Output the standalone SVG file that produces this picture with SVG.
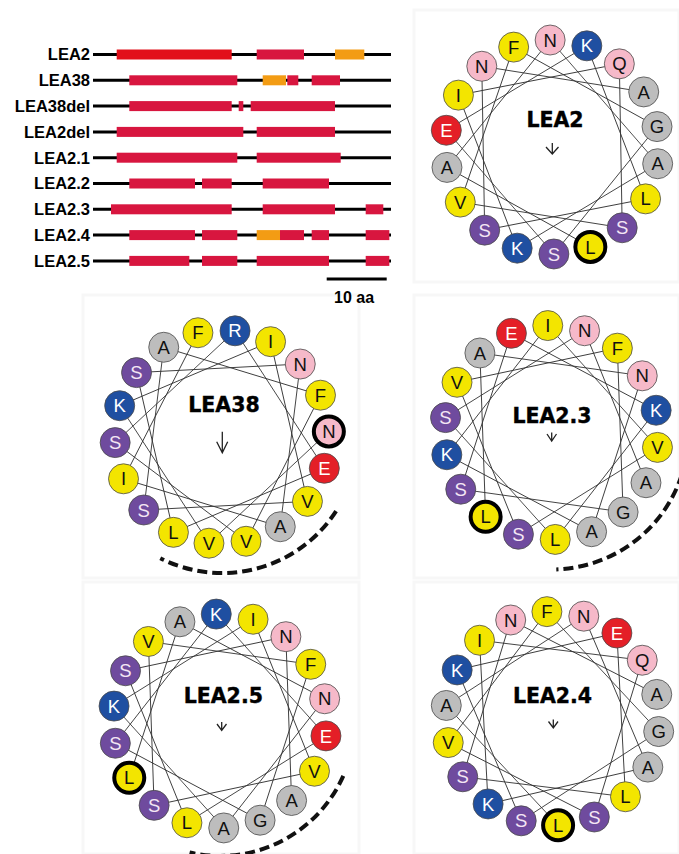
<svg xmlns="http://www.w3.org/2000/svg" xmlns:xlink="http://www.w3.org/1999/xlink" width="679" height="854" viewBox="0 0 679 854">
<style>
.lab{font-family:"Liberation Sans",Arial,sans-serif;font-weight:bold;font-size:16.5px;text-anchor:end;fill:#000}
.sc{font-family:"Liberation Sans",Arial,sans-serif;font-weight:bold;font-size:16px;fill:#000}
.ttl{font-family:"DejaVu Sans",sans-serif;font-weight:bold;font-size:20.5px;text-anchor:middle;fill:#000;stroke:#000;stroke-width:0.4}
.bb{stroke:#000;stroke-width:3}
.rd{fill:#e2101a}.cr{fill:#d8163f}.or{fill:#f39c14}
.panel{fill:#fff;stroke:#f7f7f7;stroke-width:3}
.ch{stroke:#333;stroke-width:0.85}
.aa circle{stroke:#4a4a4a;stroke-width:0.8}
.aa text{font-family:"Liberation Sans",Arial,sans-serif;font-size:18.5px;text-anchor:middle;fill:#111}
.Y circle{fill:#f3e500}.P circle{fill:#f6b9c9}.G circle{fill:#bdbdbd}
.B circle{fill:#1f4fa1}.B text{fill:#fff}
.R circle{fill:#e41f27}.R text{fill:#fff}
.V circle{fill:#6f4b9e}.V text{fill:#f4e6f4}
.aa.bold circle{stroke:#000;stroke-width:4}
.arw{fill:none;stroke:#222;stroke-width:1.3}
.arc{fill:none;stroke:#111;stroke-width:4;stroke-dasharray:10 5}
</style>
<defs>
<line id="chd" class="ch" x1="0" y1="-107" x2="105.37" y2="18.58"/>
</defs>
<rect width="679" height="854" fill="#fff"/>
<g id="panels">
<rect class="panel" x="414" y="10" width="265" height="272"/>
<rect class="panel" x="83" y="295" width="276" height="283"/>
<rect class="panel" x="414" y="295" width="265" height="283"/>
<rect class="panel" x="83" y="582" width="276" height="272"/>
<rect class="panel" x="414" y="582" width="265" height="272"/>
</g>
<!-- Domain bar chart -->
<g id="domains">
<g id="row-LEA2"><text class="lab" x="90" y="60.4">LEA2</text><line class="bb" x1="93" y1="54.5" x2="391" y2="54.5"/>
<rect class="rd" x="116.7" y="49.5" width="115" height="10"/><rect class="cr" x="256.7" y="49.5" width="47.3" height="10"/><rect class="or" x="335" y="49.5" width="29.3" height="10"/></g>
<g id="row-LEA38"><text class="lab" x="90" y="86.2">LEA38</text><line class="bb" x1="93" y1="80.3" x2="391" y2="80.3"/>
<rect class="cr" x="129.3" y="75.3" width="108" height="10"/><rect class="or" x="262.7" y="75.3" width="23.3" height="10"/><rect class="cr" x="287.3" y="75.3" width="11" height="10"/><rect class="cr" x="311.7" y="75.3" width="28.3" height="10"/></g>
<g id="row-LEA38del"><text class="lab" x="90" y="112">LEA38del</text><line class="bb" x1="93" y1="106.1" x2="391" y2="106.1"/>
<rect class="cr" x="129.3" y="101.1" width="102.4" height="10"/><rect class="cr" x="238.7" y="101.1" width="4.6" height="10"/><rect class="cr" x="250.7" y="101.1" width="84.3" height="10"/></g>
<g id="row-LEA2del"><text class="lab" x="90" y="137.8">LEA2del</text><line class="bb" x1="93" y1="131.9" x2="391" y2="131.9"/>
<rect class="cr" x="116.7" y="126.9" width="126.6" height="10"/><rect class="cr" x="256.7" y="126.9" width="78.3" height="10"/></g>
<g id="row-LEA2.1"><text class="lab" x="90" y="163.6">LEA2.1</text><line class="bb" x1="93" y1="157.7" x2="391" y2="157.7"/>
<rect class="cr" x="116.7" y="152.7" width="120.6" height="10"/><rect class="cr" x="256.7" y="152.7" width="84" height="10"/></g>
<g id="row-LEA2.2"><text class="lab" x="90" y="189.4">LEA2.2</text><line class="bb" x1="93" y1="183.5" x2="391" y2="183.5"/>
<rect class="cr" x="129.3" y="178.5" width="65.7" height="10"/><rect class="cr" x="202" y="178.5" width="29.7" height="10"/><rect class="cr" x="262.7" y="178.5" width="66.3" height="10"/></g>
<g id="row-LEA2.3"><text class="lab" x="90" y="215.2">LEA2.3</text><line class="bb" x1="93" y1="209.3" x2="391" y2="209.3"/>
<rect class="cr" x="111" y="204.3" width="120.7" height="10"/><rect class="cr" x="262.7" y="204.3" width="72.3" height="10"/><rect class="cr" x="365.7" y="204.3" width="17.6" height="10"/></g>
<g id="row-LEA2.4"><text class="lab" x="90" y="241">LEA2.4</text><line class="bb" x1="93" y1="235.1" x2="391" y2="235.1"/>
<rect class="cr" x="129.3" y="230.1" width="65.7" height="10"/><rect class="cr" x="202" y="230.1" width="35.3" height="10"/><rect class="or" x="256.7" y="230.1" width="23.3" height="10"/><rect class="cr" x="280" y="230.1" width="24" height="10"/><rect class="cr" x="311.7" y="230.1" width="17.3" height="10"/><rect class="cr" x="365.7" y="230.1" width="23.6" height="10"/></g>
<g id="row-LEA2.5"><text class="lab" x="90" y="266.8">LEA2.5</text><line class="bb" x1="93" y1="260.9" x2="391" y2="260.9"/>
<rect class="cr" x="129.3" y="255.9" width="60" height="10"/><rect class="cr" x="202" y="255.9" width="35.3" height="10"/><rect class="cr" x="256.7" y="255.9" width="72.3" height="10"/><rect class="cr" x="365.7" y="255.9" width="23.6" height="10"/></g>
<g id="scalebar"><line class="bb" x1="326.7" y1="279" x2="386.7" y2="279"/><text class="sc" x="334" y="302.5">10 aa</text></g>
</g>

<!-- Wheel LEA2 -->
<g id="wheel-LEA2" transform="translate(552,147)">
<g id="connectors-LEA2" transform="rotate(-1)">
<use href="#chd" transform="rotate(0)"/><use href="#chd" transform="rotate(20)"/><use href="#chd" transform="rotate(40)"/><use href="#chd" transform="rotate(80)"/><use href="#chd" transform="rotate(100)"/><use href="#chd" transform="rotate(120)"/><use href="#chd" transform="rotate(140)"/><use href="#chd" transform="rotate(160)"/><use href="#chd" transform="rotate(180)"/><use href="#chd" transform="rotate(200)"/><use href="#chd" transform="rotate(220)"/><use href="#chd" transform="rotate(240)"/><use href="#chd" transform="rotate(260)"/><use href="#chd" transform="rotate(280)"/><use href="#chd" transform="rotate(300)"/><use href="#chd" transform="rotate(320)"/><use href="#chd" transform="rotate(340)"/>
</g>
<g id="lea2-p0" class="aa P" transform="rotate(-1) translate(0,-107) rotate(1)"><circle r="15"/><text y="6.6">N</text></g>
<g id="lea2-p1" class="aa B" transform="rotate(19) translate(0,-107) rotate(-19)"><circle r="15"/><text y="6.6">K</text></g>
<g id="lea2-p2" class="aa P" transform="rotate(39) translate(0,-107) rotate(-39)"><circle r="15"/><text y="6.6">Q</text></g>
<g id="lea2-p3" class="aa G" transform="rotate(59) translate(0,-107) rotate(-59)"><circle r="15"/><text y="6.6">A</text></g>
<g id="lea2-p4" class="aa G" transform="rotate(79) translate(0,-107) rotate(-79)"><circle r="15"/><text y="6.6">G</text></g>
<g id="lea2-p5" class="aa G" transform="rotate(99) translate(0,-107) rotate(-99)"><circle r="15"/><text y="6.6">A</text></g>
<g id="lea2-p6" class="aa Y" transform="rotate(119) translate(0,-107) rotate(-119)"><circle r="15"/><text y="6.6">L</text></g>
<g id="lea2-p7" class="aa V" transform="rotate(139) translate(0,-107) rotate(-139)"><circle r="15"/><text y="6.6">S</text></g>
<g id="lea2-p8" class="aa Y bold" transform="rotate(159) translate(0,-107) rotate(-159)"><circle r="15"/><text y="6.6">L</text></g>
<g id="lea2-p9" class="aa V" transform="rotate(179) translate(0,-107) rotate(-179)"><circle r="15"/><text y="6.6">S</text></g>
<g id="lea2-p10" class="aa B" transform="rotate(199) translate(0,-107) rotate(-199)"><circle r="15"/><text y="6.6">K</text></g>
<g id="lea2-p11" class="aa V" transform="rotate(219) translate(0,-107) rotate(-219)"><circle r="15"/><text y="6.6">S</text></g>
<g id="lea2-p12" class="aa Y" transform="rotate(239) translate(0,-107) rotate(-239)"><circle r="15"/><text y="6.6">V</text></g>
<g id="lea2-p13" class="aa G" transform="rotate(259) translate(0,-107) rotate(-259)"><circle r="15"/><text y="6.6">A</text></g>
<g id="lea2-p14" class="aa R" transform="rotate(279) translate(0,-107) rotate(-279)"><circle r="15"/><text y="6.6">E</text></g>
<g id="lea2-p15" class="aa Y" transform="rotate(299) translate(0,-107) rotate(-299)"><circle r="15"/><text y="6.6">I</text></g>
<g id="lea2-p16" class="aa P" transform="rotate(319) translate(0,-107) rotate(-319)"><circle r="15"/><text y="6.6">N</text></g>
<g id="lea2-p17" class="aa Y" transform="rotate(339) translate(0,-107) rotate(-339)"><circle r="15"/><text y="6.6">F</text></g>
<text class="ttl" x="3" y="-20.3">LEA2</text>
<path class="arw" d="M0.3,-4 V7 M-6,0 L0.3,7 L6.5,0"/>
</g>

<!-- Wheel LEA38 -->
<g id="wheel-LEA38" transform="translate(222,437)">
<g id="connectors-LEA38" transform="rotate(7)">
<use href="#chd" transform="rotate(0)"/><use href="#chd" transform="rotate(20)"/><use href="#chd" transform="rotate(40)"/><use href="#chd" transform="rotate(60)"/><use href="#chd" transform="rotate(80)"/><use href="#chd" transform="rotate(100)"/><use href="#chd" transform="rotate(120)"/><use href="#chd" transform="rotate(140)"/><use href="#chd" transform="rotate(160)"/><use href="#chd" transform="rotate(180)"/><use href="#chd" transform="rotate(200)"/><use href="#chd" transform="rotate(220)"/><use href="#chd" transform="rotate(240)"/><use href="#chd" transform="rotate(260)"/><use href="#chd" transform="rotate(280)"/><use href="#chd" transform="rotate(300)"/><use href="#chd" transform="rotate(320)"/>
</g>
<g id="lea38-p0" class="aa B" transform="rotate(7) translate(0,-107) rotate(-7)"><circle r="15"/><text y="6.6">R</text></g>
<g id="lea38-p1" class="aa Y" transform="rotate(27) translate(0,-107) rotate(-27)"><circle r="15"/><text y="6.6">I</text></g>
<g id="lea38-p2" class="aa P" transform="rotate(47) translate(0,-107) rotate(-47)"><circle r="15"/><text y="6.6">N</text></g>
<g id="lea38-p3" class="aa Y" transform="rotate(67) translate(0,-107) rotate(-67)"><circle r="15"/><text y="6.6">F</text></g>
<g id="lea38-p4" class="aa P bold" transform="rotate(87) translate(0,-107) rotate(-87)"><circle r="15"/><text y="6.6">N</text></g>
<g id="lea38-p5" class="aa R" transform="rotate(107) translate(0,-107) rotate(-107)"><circle r="15"/><text y="6.6">E</text></g>
<g id="lea38-p6" class="aa Y" transform="rotate(127) translate(0,-107) rotate(-127)"><circle r="15"/><text y="6.6">V</text></g>
<g id="lea38-p7" class="aa G" transform="rotate(147) translate(0,-107) rotate(-147)"><circle r="15"/><text y="6.6">A</text></g>
<g id="lea38-p8" class="aa Y" transform="rotate(167) translate(0,-107) rotate(-167)"><circle r="15"/><text y="6.6">V</text></g>
<g id="lea38-p9" class="aa Y" transform="rotate(187) translate(0,-107) rotate(-187)"><circle r="15"/><text y="6.6">V</text></g>
<g id="lea38-p10" class="aa Y" transform="rotate(207) translate(0,-107) rotate(-207)"><circle r="15"/><text y="6.6">L</text></g>
<g id="lea38-p11" class="aa V" transform="rotate(227) translate(0,-107) rotate(-227)"><circle r="15"/><text y="6.6">S</text></g>
<g id="lea38-p12" class="aa Y" transform="rotate(247) translate(0,-107) rotate(-247)"><circle r="15"/><text y="6.6">I</text></g>
<g id="lea38-p13" class="aa V" transform="rotate(267) translate(0,-107) rotate(-267)"><circle r="15"/><text y="6.6">S</text></g>
<g id="lea38-p14" class="aa B" transform="rotate(287) translate(0,-107) rotate(-287)"><circle r="15"/><text y="6.6">K</text></g>
<g id="lea38-p15" class="aa V" transform="rotate(307) translate(0,-107) rotate(-307)"><circle r="15"/><text y="6.6">S</text></g>
<g id="lea38-p16" class="aa G" transform="rotate(327) translate(0,-107) rotate(-327)"><circle r="15"/><text y="6.6">A</text></g>
<g id="lea38-p17" class="aa Y" transform="rotate(347) translate(0,-107) rotate(-347)"><circle r="15"/><text y="6.6">F</text></g>
<text class="ttl" x="2" y="-25.3">LEA38</text>
<path class="arw" d="M0.3,-5.3 V15.7 M-5.3,4.7 L0.3,15.7 L5.7,4.7"/>
</g>
<path id="arc-LEA38" class="arc" d="M336.1,511.1 A136,136 0 0 1 160.3,558.2"/>

<!-- Wheel LEA2.3 -->
<g id="wheel-LEA2.3" transform="translate(551.5,432.5)">
<g id="connectors-LEA2.3" transform="rotate(-2)">
<use href="#chd" transform="rotate(0)"/><use href="#chd" transform="rotate(20)"/><use href="#chd" transform="rotate(40)"/><use href="#chd" transform="rotate(60)"/><use href="#chd" transform="rotate(80)"/><use href="#chd" transform="rotate(100)"/><use href="#chd" transform="rotate(140)"/><use href="#chd" transform="rotate(160)"/><use href="#chd" transform="rotate(180)"/><use href="#chd" transform="rotate(200)"/><use href="#chd" transform="rotate(220)"/><use href="#chd" transform="rotate(240)"/><use href="#chd" transform="rotate(260)"/><use href="#chd" transform="rotate(280)"/><use href="#chd" transform="rotate(300)"/><use href="#chd" transform="rotate(320)"/><use href="#chd" transform="rotate(340)"/>
</g>
<g id="lea23-p0" class="aa Y" transform="rotate(-2) translate(0,-107) rotate(2)"><circle r="15"/><text y="6.6">I</text></g>
<g id="lea23-p1" class="aa P" transform="rotate(18) translate(0,-107) rotate(-18)"><circle r="15"/><text y="6.6">N</text></g>
<g id="lea23-p2" class="aa Y" transform="rotate(38) translate(0,-107) rotate(-38)"><circle r="15"/><text y="6.6">F</text></g>
<g id="lea23-p3" class="aa P" transform="rotate(58) translate(0,-107) rotate(-58)"><circle r="15"/><text y="6.6">N</text></g>
<g id="lea23-p4" class="aa B" transform="rotate(78) translate(0,-107) rotate(-78)"><circle r="15"/><text y="6.6">K</text></g>
<g id="lea23-p5" class="aa Y" transform="rotate(98) translate(0,-107) rotate(-98)"><circle r="15"/><text y="6.6">V</text></g>
<g id="lea23-p6" class="aa G" transform="rotate(118) translate(0,-107) rotate(-118)"><circle r="15"/><text y="6.6">A</text></g>
<g id="lea23-p7" class="aa G" transform="rotate(138) translate(0,-107) rotate(-138)"><circle r="15"/><text y="6.6">G</text></g>
<g id="lea23-p8" class="aa G" transform="rotate(158) translate(0,-107) rotate(-158)"><circle r="15"/><text y="6.6">A</text></g>
<g id="lea23-p9" class="aa Y" transform="rotate(178) translate(0,-107) rotate(-178)"><circle r="15"/><text y="6.6">L</text></g>
<g id="lea23-p10" class="aa V" transform="rotate(198) translate(0,-107) rotate(-198)"><circle r="15"/><text y="6.6">S</text></g>
<g id="lea23-p11" class="aa Y bold" transform="rotate(218) translate(0,-107) rotate(-218)"><circle r="15"/><text y="6.6">L</text></g>
<g id="lea23-p12" class="aa V" transform="rotate(238) translate(0,-107) rotate(-238)"><circle r="15"/><text y="6.6">S</text></g>
<g id="lea23-p13" class="aa B" transform="rotate(258) translate(0,-107) rotate(-258)"><circle r="15"/><text y="6.6">K</text></g>
<g id="lea23-p14" class="aa V" transform="rotate(278) translate(0,-107) rotate(-278)"><circle r="15"/><text y="6.6">S</text></g>
<g id="lea23-p15" class="aa Y" transform="rotate(298) translate(0,-107) rotate(-298)"><circle r="15"/><text y="6.6">V</text></g>
<g id="lea23-p16" class="aa G" transform="rotate(318) translate(0,-107) rotate(-318)"><circle r="15"/><text y="6.6">A</text></g>
<g id="lea23-p17" class="aa R" transform="rotate(338) translate(0,-107) rotate(-338)"><circle r="15"/><text y="6.6">E</text></g>
<text class="ttl" x="0.5" y="-9.5">LEA2.3</text>
<path class="arw" d="M0.2,0 V8.5 M-4.5,1.5 L0.2,8.5 L5,1.5"/>
</g>
<path id="arc-LEA2.3" class="arc" d="M681.8,474.8 A137,137 0 0 1 556.3,569.4"/>

<!-- Wheel LEA2.5 -->
<g id="wheel-LEA2.5" transform="translate(220,721)">
<g id="connectors-LEA2.5" transform="rotate(-2)">
<use href="#chd" transform="rotate(0)"/><use href="#chd" transform="rotate(20)"/><use href="#chd" transform="rotate(40)"/><use href="#chd" transform="rotate(60)"/><use href="#chd" transform="rotate(80)"/><use href="#chd" transform="rotate(100)"/><use href="#chd" transform="rotate(120)"/><use href="#chd" transform="rotate(160)"/><use href="#chd" transform="rotate(180)"/><use href="#chd" transform="rotate(200)"/><use href="#chd" transform="rotate(220)"/><use href="#chd" transform="rotate(240)"/><use href="#chd" transform="rotate(260)"/><use href="#chd" transform="rotate(280)"/><use href="#chd" transform="rotate(300)"/><use href="#chd" transform="rotate(320)"/><use href="#chd" transform="rotate(340)"/>
</g>
<g id="lea25-p0" class="aa B" transform="rotate(-2) translate(0,-107) rotate(2)"><circle r="15"/><text y="6.6">K</text></g>
<g id="lea25-p1" class="aa Y" transform="rotate(18) translate(0,-107) rotate(-18)"><circle r="15"/><text y="6.6">I</text></g>
<g id="lea25-p2" class="aa P" transform="rotate(38) translate(0,-107) rotate(-38)"><circle r="15"/><text y="6.6">N</text></g>
<g id="lea25-p3" class="aa Y" transform="rotate(58) translate(0,-107) rotate(-58)"><circle r="15"/><text y="6.6">F</text></g>
<g id="lea25-p4" class="aa P" transform="rotate(78) translate(0,-107) rotate(-78)"><circle r="15"/><text y="6.6">N</text></g>
<g id="lea25-p5" class="aa R" transform="rotate(98) translate(0,-107) rotate(-98)"><circle r="15"/><text y="6.6">E</text></g>
<g id="lea25-p6" class="aa Y" transform="rotate(118) translate(0,-107) rotate(-118)"><circle r="15"/><text y="6.6">V</text></g>
<g id="lea25-p7" class="aa G" transform="rotate(138) translate(0,-107) rotate(-138)"><circle r="15"/><text y="6.6">A</text></g>
<g id="lea25-p8" class="aa G" transform="rotate(158) translate(0,-107) rotate(-158)"><circle r="15"/><text y="6.6">G</text></g>
<g id="lea25-p9" class="aa G" transform="rotate(178) translate(0,-107) rotate(-178)"><circle r="15"/><text y="6.6">A</text></g>
<g id="lea25-p10" class="aa Y" transform="rotate(198) translate(0,-107) rotate(-198)"><circle r="15"/><text y="6.6">L</text></g>
<g id="lea25-p11" class="aa V" transform="rotate(218) translate(0,-107) rotate(-218)"><circle r="15"/><text y="6.6">S</text></g>
<g id="lea25-p12" class="aa Y bold" transform="rotate(238) translate(0,-107) rotate(-238)"><circle r="15"/><text y="6.6">L</text></g>
<g id="lea25-p13" class="aa V" transform="rotate(258) translate(0,-107) rotate(-258)"><circle r="15"/><text y="6.6">S</text></g>
<g id="lea25-p14" class="aa B" transform="rotate(278) translate(0,-107) rotate(-278)"><circle r="15"/><text y="6.6">K</text></g>
<g id="lea25-p15" class="aa V" transform="rotate(298) translate(0,-107) rotate(-298)"><circle r="15"/><text y="6.6">S</text></g>
<g id="lea25-p16" class="aa Y" transform="rotate(318) translate(0,-107) rotate(-318)"><circle r="15"/><text y="6.6">V</text></g>
<g id="lea25-p17" class="aa G" transform="rotate(338) translate(0,-107) rotate(-338)"><circle r="15"/><text y="6.6">A</text></g>
<text class="ttl" x="3.3" y="-18">LEA2.5</text>
<path class="arw" d="M1.7,1 V9.5 M-3,3 L1.7,9.5 L6.5,3"/>
</g>
<path id="arc-LEA2.5" class="arc" d="M343.3,775.9 A135,135 0 0 1 189.6,852.5"/>

<!-- Wheel LEA2.4 -->
<g id="wheel-LEA2.4" transform="translate(552.5,718.5)">
<g id="connectors-LEA2.4" transform="rotate(-3)">
<use href="#chd" transform="rotate(0)"/><use href="#chd" transform="rotate(20)"/><use href="#chd" transform="rotate(40)"/><use href="#chd" transform="rotate(60)"/><use href="#chd" transform="rotate(100)"/><use href="#chd" transform="rotate(120)"/><use href="#chd" transform="rotate(140)"/><use href="#chd" transform="rotate(160)"/><use href="#chd" transform="rotate(180)"/><use href="#chd" transform="rotate(200)"/><use href="#chd" transform="rotate(220)"/><use href="#chd" transform="rotate(240)"/><use href="#chd" transform="rotate(260)"/><use href="#chd" transform="rotate(280)"/><use href="#chd" transform="rotate(300)"/><use href="#chd" transform="rotate(320)"/><use href="#chd" transform="rotate(340)"/>
</g>
<g id="lea24-p0" class="aa Y" transform="rotate(-3) translate(0,-107) rotate(3)"><circle r="15"/><text y="6.6">F</text></g>
<g id="lea24-p1" class="aa P" transform="rotate(17) translate(0,-107) rotate(-17)"><circle r="15"/><text y="6.6">N</text></g>
<g id="lea24-p2" class="aa R" transform="rotate(37) translate(0,-107) rotate(-37)"><circle r="15"/><text y="6.6">E</text></g>
<g id="lea24-p3" class="aa P" transform="rotate(57) translate(0,-107) rotate(-57)"><circle r="15"/><text y="6.6">Q</text></g>
<g id="lea24-p4" class="aa G" transform="rotate(77) translate(0,-107) rotate(-77)"><circle r="15"/><text y="6.6">A</text></g>
<g id="lea24-p5" class="aa G" transform="rotate(97) translate(0,-107) rotate(-97)"><circle r="15"/><text y="6.6">G</text></g>
<g id="lea24-p6" class="aa G" transform="rotate(117) translate(0,-107) rotate(-117)"><circle r="15"/><text y="6.6">A</text></g>
<g id="lea24-p7" class="aa Y" transform="rotate(137) translate(0,-107) rotate(-137)"><circle r="15"/><text y="6.6">L</text></g>
<g id="lea24-p8" class="aa V" transform="rotate(157) translate(0,-107) rotate(-157)"><circle r="15"/><text y="6.6">S</text></g>
<g id="lea24-p9" class="aa Y bold" transform="rotate(177) translate(0,-107) rotate(-177)"><circle r="15"/><text y="6.6">L</text></g>
<g id="lea24-p10" class="aa V" transform="rotate(197) translate(0,-107) rotate(-197)"><circle r="15"/><text y="6.6">S</text></g>
<g id="lea24-p11" class="aa B" transform="rotate(217) translate(0,-107) rotate(-217)"><circle r="15"/><text y="6.6">K</text></g>
<g id="lea24-p12" class="aa V" transform="rotate(237) translate(0,-107) rotate(-237)"><circle r="15"/><text y="6.6">S</text></g>
<g id="lea24-p13" class="aa Y" transform="rotate(257) translate(0,-107) rotate(-257)"><circle r="15"/><text y="6.6">V</text></g>
<g id="lea24-p14" class="aa G" transform="rotate(277) translate(0,-107) rotate(-277)"><circle r="15"/><text y="6.6">A</text></g>
<g id="lea24-p15" class="aa B" transform="rotate(297) translate(0,-107) rotate(-297)"><circle r="15"/><text y="6.6">K</text></g>
<g id="lea24-p16" class="aa Y" transform="rotate(317) translate(0,-107) rotate(-317)"><circle r="15"/><text y="6.6">I</text></g>
<g id="lea24-p17" class="aa P" transform="rotate(337) translate(0,-107) rotate(-337)"><circle r="15"/><text y="6.6">N</text></g>
<text class="ttl" x="0" y="-15.2">LEA2.4</text>
<path class="arw" d="M0.8,1 V9.5 M-4,3 L0.8,9.5 L5.5,3"/>
</g>
</svg>
